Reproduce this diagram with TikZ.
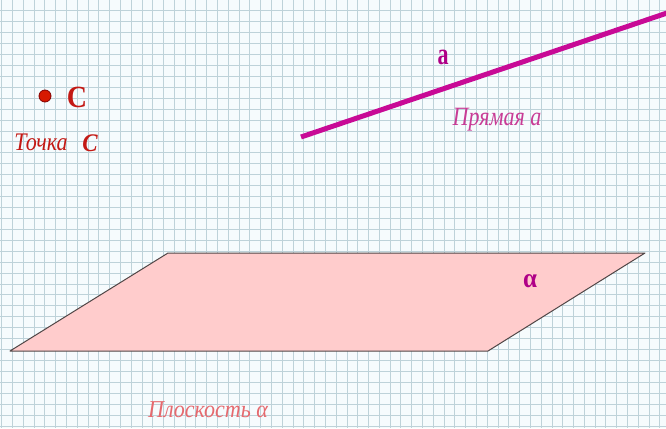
\documentclass[tikz,border=0pt]{standalone}
\usepackage{fontspec}
\setmainfont{Liberation Serif}
\definecolor{bgc}{RGB}{246,251,253}
\definecolor{gridc}{RGB}{190,210,217}
\definecolor{planec}{RGB}{255,204,204}
\definecolor{planeedge}{RGB}{80,70,70}
\definecolor{linec}{RGB}{200,10,150}
\definecolor{labc}{RGB}{175,0,135}
\definecolor{lab2c}{RGB}{200,60,150}
\definecolor{plabc}{RGB}{230,105,110}
\definecolor{redc}{RGB}{195,25,20}
\definecolor{dotc}{RGB}{215,25,0}
\definecolor{dotedge}{RGB}{130,0,0}
\begin{document}
\begin{tikzpicture}[x=1pt,y=-1pt,
  txt/.style={inner sep=0pt, transform shape},
  gridline/.style={draw=gridc, line width=0.9pt}]
\useasboundingbox (0,0) rectangle (666,428);
\fill[bgc] (0,0) rectangle (666,428);
% grid
\foreach \k in {0,...,61} {
  \draw[gridline] ({1.7+10.79*\k},0) -- ({1.7+10.79*\k},428);
}
\foreach \k in {1,...,39} {
  \draw[gridline] (0,{-0.2+10.93*\k}) -- (666,{-0.2+10.93*\k});
}
% plane
\coordinate (p1) at (10,351);
\coordinate (p2) at (168,253);
\coordinate (p3) at (645,253);
\coordinate (p4) at (488,351);
\filldraw[fill=planec, draw=planeedge, line width=1pt, line join=round] (p1) -- (p2) -- (p3) -- (p4) -- cycle;
\node[txt, text=labc, font=\fontsize{25}{25}\selectfont\bfseries, yscale=1.1] (alpha) at (530,281) {α};
\node[txt, text=plabc, font=\fontsize{22}{22}\selectfont\itshape, yscale=1.1] (plab) at (208,410) {Плоскость α};
% line a
\coordinate (a1) at (301,137);
\coordinate (a2) at (670,12);
\draw[linec, line width=5pt] (a1) -- (a2);
\node[txt, text=labc, font=\fontsize{22}{22}\selectfont\bfseries, yscale=1.4] (la) at (443,57) {a};
\node[txt, text=lab2c, font=\fontsize{22}{22}\selectfont\itshape, yscale=1.2] (lline) at (497,120) {Прямая а};
% point C
\node[circle, fill=dotc, draw=dotedge, line width=0.8pt, minimum size=12pt, inner sep=0pt] (dot) at (45,96) {};
\node[txt, text=redc, font=\fontsize{28}{28}\selectfont\bfseries, yscale=1.1] (lc) at (77,97) {C};
\node[txt, text=redc, font=\fontsize{22}{22}\selectfont\itshape, yscale=1.15] (tochka) at (41,142) {Точка};
\node[txt, text=redc, font=\fontsize{23}{23}\selectfont\bfseries\itshape, yscale=1.1] (lc2) at (90,143) {C};
\end{tikzpicture}
\end{document}
